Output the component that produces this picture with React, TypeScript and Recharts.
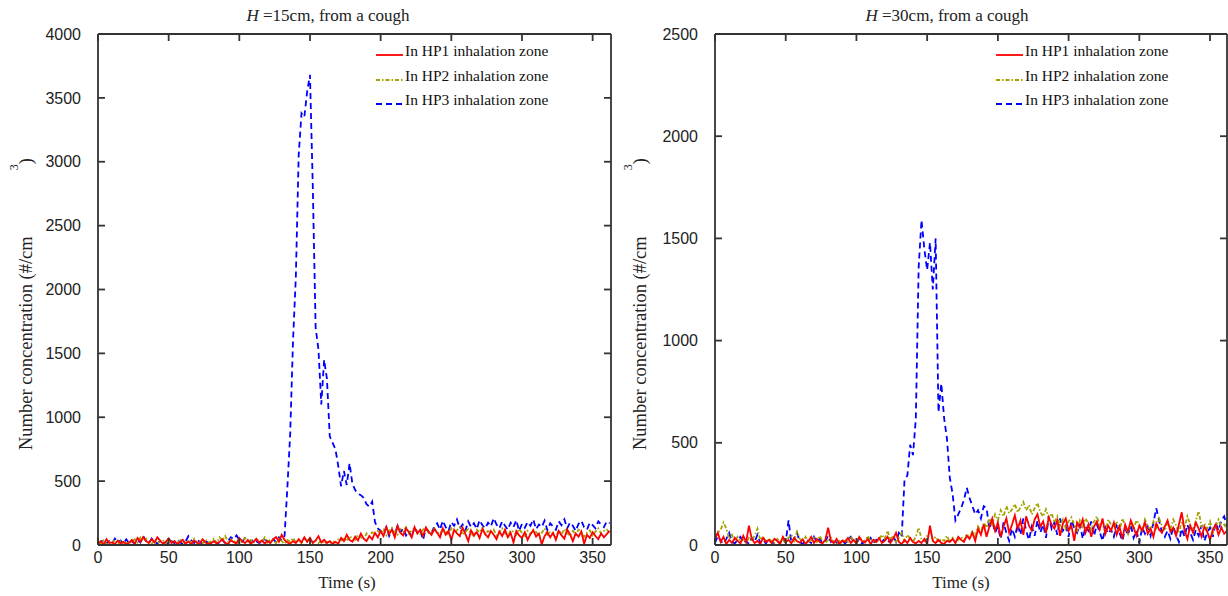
import { Legend, Line, LineChart, XAxis, YAxis } from 'recharts';

const SERIF = '"Liberation Serif", "Times New Roman", serif';
const SANS = '"Liberation Sans", Arial, sans-serif';
const FRAME = '#333';
const INK = '#222';

// samples every 2 s
const STEP_S = 2;
const TIME_TICKS = [0, 50, 100, 150, 200, 250, 300, 350];
const Y_TICKS_15 = [0, 500, 1000, 1500, 2000, 2500, 3000, 3500, 4000];
const Y_TICKS_30 = [0, 500, 1000, 1500, 2000, 2500];

// H = 15 cm
const H15_HP1 = [
  10, 30, 5, 45, 15, 20, 8, 35, 12, 25, 5, 18, 40, 10, 55, 25, 62, 30, 15, 45,
  20, 60, 35, 10, 25, 50, 15, 30, 8, 22, 40, 12, 28, 5, 35, 18, 10, 45, 20, 8,
  15, 30, 10, 25, 45, 18, 6, 38, 22, 12, 55, 30, 15, 40, 10, 25, 48, 20, 35, 12,
  30, 15, 45, 62, 25, 80, 40, 20, 10, 30, 15, 45, 20, 60, 25, 55, 15, 35, 70, 20,
  40, 15, 30, 8, 25, 10, 55, 30, 80, 40, 25, 65, 35, 90, 50, 30, 70, 45, 95, 60,
  110, 70, 140, 85, 120, 60, 150, 95, 75, 130, 100, 60, 140, 90, 120, 70, 135, 105, 80, 125,
  95, 60, 130, 80, 110, 40, 120, 90, 70, 135, 85, 30, 115, 75, 100, 55, 125, 85, 60, 110,
  80, 45, 105, 70, 120, 60, 95, 20, 110, 75, 55, 100, 40, 85, 115, 65, 90, 5, 70, 100,
  60, 95, 40, 110, 75, 50, 120, 85, 30, 90, 65, 105, 10, 80, 55, 100, 70, 45, 90, 60,
  85, 110,
];
const H15_HP2 = [
  20, 10, 35, 5, 25, 15, 40, 8, 30, 12, 20, 5, 28, 45, 18, 60, 30, 50, 22, 10,
  35, 15, 25, 40, 10, 55, 20, 30, 12, 45, 25, 8, 38, 20, 50, 15, 30, 10, 42, 18,
  28, 50, 15, 60, 35, 70, 25, 45, 20, 38, 10, 30, 55, 22, 40, 15, 48, 30, 25, 60,
  20, 45, 35, 15, 50, 30, 10, 40, 25, 55, 20, 35, 15, 45, 30, 60, 20, 40, 15, 35,
  10, 25, 15, 30, 20, 45, 35, 55, 30, 70, 50, 40, 80, 60, 45, 90, 70, 100, 80, 110,
  90, 120, 75, 110, 135, 95, 80, 125, 105, 140, 90, 115, 130, 100, 85, 120, 140, 95, 110, 130,
  100, 85, 125, 110, 75, 130, 95, 115, 140, 80, 105, 125, 90, 70, 120, 100, 135, 85, 110, 95,
  120, 75, 100, 130, 90, 65, 115, 105, 80, 125, 95, 60, 110, 85, 120, 100, 70, 95, 130, 80,
  105, 90, 60, 115, 85, 125, 95, 70, 110, 80, 120, 100, 65, 95, 115, 75, 105, 130, 90, 110,
  120, 95,
];
const H15_HP3 = [
  5, 25, 40, 10, 30, 15, 50, 20, 35, 8, 45, 15, 28, 10, 40, 20, 70, 30, 15, 50,
  25, 10, 35, 15, 20, 8, 30, 15, 45, 20, 10, 28, 70, 35, 15, 40, 25, 10, 30, 18,
  12, 35, 20, 8, 40, 15, 30, 60, 45, 75, 40, 25, 55, 35, 20, 45, 30, 15, 25, 40,
  30, 15, 45, 20, 60, 35, 70, 450, 870, 1600, 2100, 3050, 3380, 3350, 3550, 3680, 2800, 1700, 1530, 1100,
  1450, 1300, 850, 800, 750, 620, 460, 580, 470, 640, 480, 430, 400, 390, 370, 320, 300, 340, 180, 130,
  110, 90, 140, 70, 120, 85, 150, 100, 130, 75, 110, 60, 140, 95, 120, 40, 130, 100, 85, 150,
  170, 120, 190, 140, 110, 180, 150, 200, 130, 160, 115, 185, 140, 170, 125, 195, 155, 130, 175, 145,
  210, 160, 130, 185, 150, 120, 175, 140, 195, 110, 165, 135, 180, 150, 200, 125, 160, 140, 190, 115,
  170, 145, 120, 185, 155, 200, 130, 175, 150, 110, 165, 190, 140, 120, 175, 155, 130, 185, 160, 140,
  185, 170,
];

// H = 30 cm
const H30_HP1 = [
  30, 60, 15, 40, 5, 25, 10, 35, 20, 8, 45, 15, 95, 30, 10, 20, 5, 35, 15, 25,
  10, 30, 20, 5, 40, 15, 25, 8, 35, 18, 12, 28, 5, 20, 40, 10, 30, 15, 8, 25,
  85, 20, 10, 30, 5, 22, 15, 35, 10, 25, 8, 40, 18, 12, 30, 5, 25, 15, 35, 10,
  20, 40, 10, 30, 60, 15, 5, 25, 10, 35, 15, 8, 20, 10, 30, 5, 95, 20, 10, 25,
  10, 5, 20, 15, 30, 10, 40, 25, 15, 45, 30, 60, 20, 80, 50, 100, 40, 90, 130, 70,
  110, 40, 90, 130, 60, 100, 145, 80, 120, 50, 140, 95, 70, 125, 150, 90, 115, 60, 135, 100,
  80, 120, 45, 105, 130, 70, 95, 20, 110, 85, 125, 60, 100, 40, 90, 115, 75, 130, 55, 95,
  70, 110, 50, 90, 30, 100, 65, 120, 85, 45, 95, 70, 110, 55, 80, 40, 105, 75, 60, 90,
  120, 65, 85, 45, 100, 160, 70, 30, 95, 60, 110, 80, 40, 90, 65, 25, 75, 100, 50, 85,
  55, 70,
];
const H30_HP2 = [
  40, 60, 75, 110, 80, 30, 50, 20, 40, 15, 25, 10, 35, 20, 45, 80, 25, 40, 15, 30,
  20, 10, 30, 15, 25, 8, 35, 50, 20, 65, 30, 15, 40, 10, 25, 35, 15, 45, 20, 10,
  25, 35, 15, 5, 20, 10, 30, 15, 40, 20, 10, 35, 25, 15, 45, 20, 30, 10, 25, 50,
  30, 70, 25, 45, 15, 35, 60, 20, 50, 30, 15, 40, 85, 30, 20, 45, 70, 25, 40, 15,
  30, 20, 45, 15, 35, 10, 25, 40, 20, 55, 30, 70, 45, 90, 60, 110, 85, 130, 100, 150,
  120, 170, 140, 190, 155, 175, 200, 160, 185, 210, 170, 195, 150, 180, 205, 160, 140, 175, 130, 155,
  110, 140, 95, 125, 80, 115, 135, 100, 70, 120, 90, 130, 105, 75, 115, 140, 95, 110, 60, 125,
  100, 85, 115, 70, 130, 95, 55, 110, 80, 120, 100, 65, 125, 90, 75, 115, 85, 130, 95, 70,
  110, 80, 125, 95, 60, 115, 85, 140, 100, 70, 120, 165, 90, 105, 80, 115, 60, 95, 125, 85,
  100, 75,
];
const H30_HP3 = [
  10, 45, 20, 5, 30, 60, 15, 8, 25, 40, 10, 20, 5, 35, 15, 50, 10, 25, 8, 30,
  15, 5, 20, 10, 35, 15, 120, 10, 30, 60, 15, 5, 25, 20, 10, 40, 15, 30, 8, 20,
  45, 15, 30, 10, 5, 20, 8, 25, 40, 15, 10, 30, 5, 20, 15, 35, 10, 25, 20, 15,
  30, 10, 25, 45, 15, 60, 40, 320, 340, 490, 440, 620, 1360, 1590, 1450, 1345, 1480, 1250, 1500, 650,
  790, 620, 520, 330, 250, 120, 150, 180, 220, 280, 230, 190, 150, 170, 130, 190, 180, 80, 120, 60,
  90, 30, 110, 60, 20, 80, 40, 100, 50, 130, 70, 25, 90, 45, 120, 60, 100, 35, 140, 80,
  110, 50, 130, 70, 95, 40, 120, 85, 60, 105, 30, 90, 70, 115, 45, 100, 65, 20, 85, 55,
  75, 40, 95, 60, 20, 80, 50, 100, 35, 70, 10, 85, 55, 90, 45, 110, 180, 120, 60, 40,
  70, 30, 90, 50, 15, 80, 40, 100, 60, 25, 75, 45, 95, 20, 60, 85, 40, 110, 70, 120,
  140, 90,
];

const SERIES = [
  { key: 'hp1', name: 'In HP1 inhalation zone', color: '#ff0000', dash: undefined },
  { key: 'hp2', name: 'In HP2 inhalation zone', color: '#a3a300', dash: '4 2 1.5 2' },
  { key: 'hp3', name: 'In HP3 inhalation zone', color: '#0000ff', dash: '6 4' },
];

type Row = { t: number; hp1: number; hp2: number; hp3: number };

function toRows(hp1: number[], hp2: number[], hp3: number[]): Row[] {
  return hp1.map((v, i) => ({ t: i * STEP_S, hp1: v, hp2: hp2[i], hp3: hp3[i] }));
}

// tick marks only, no label (used for the inward ticks of the box)
const NoLabel = () => <g />;

function renderLegend() {
  return (
    <div>
      {SERIES.map((s) => (
        <div key={s.key} style={{ display: 'flex', alignItems: 'center', height: 24.5 }}>
          <svg width={28} height={16}>
            <line x1={0} x2={27} y1={12} y2={12} stroke={s.color} strokeWidth={1.8} strokeDasharray={s.dash} />
          </svg>
          <span style={{ fontFamily: SERIF, fontSize: 15.5, color: '#111', marginLeft: 1, whiteSpace: 'nowrap' }}>
            {s.name}
          </span>
        </div>
      ))}
    </div>
  );
}

type PanelProps = {
  heightCm: number;
  rows: Row[];
  yTicks: number[];
  left: number;
  plotLeft: number;
  rightPad: number;
  tMax: number;
  legendLeft: number;
  titleX: number;
};

function Panel(p: PanelProps) {
  const yMax = p.yTicks[p.yTicks.length - 1];
  const frame = { stroke: FRAME, strokeWidth: 1.8 };
  return (
    <div style={{ position: 'absolute', left: p.left, top: 0, width: 614, height: 596 }}>
      <LineChart width={614} height={596} data={p.rows} margin={{ top: 34, right: p.rightPad, bottom: 21, left: 0 }}>
        <XAxis
          xAxisId="b"
          dataKey="t"
          type="number"
          domain={[0, p.tMax]}
          allowDataOverflow
          ticks={TIME_TICKS}
          height={30}
          tickLine={false}
          axisLine={frame}
          tickMargin={1}
          tick={{ fill: INK, fontSize: 16, fontFamily: SANS }}
        />
        <XAxis xAxisId="bm" dataKey="t" type="number" domain={[0, p.tMax]} allowDataOverflow ticks={TIME_TICKS}
          mirror axisLine={false} tick={NoLabel} tickSize={7} tickLine={frame} />
        <XAxis xAxisId="top" orientation="top" dataKey="t" type="number" domain={[0, p.tMax]} allowDataOverflow
          ticks={TIME_TICKS} mirror axisLine={frame} tick={NoLabel} tickSize={7} tickLine={frame} />
        <YAxis
          yAxisId="l"
          type="number"
          domain={[0, yMax]}
          allowDataOverflow
          ticks={p.yTicks}
          width={p.plotLeft}
          tickLine={false}
          axisLine={frame}
          tickMargin={11}
          tick={{ fill: INK, fontSize: 16, fontFamily: SANS }}
        />
        <YAxis yAxisId="lm" type="number" domain={[0, yMax]} allowDataOverflow ticks={p.yTicks}
          mirror axisLine={false} tick={NoLabel} tickSize={7} tickLine={frame} />
        <YAxis yAxisId="r" orientation="right" type="number" domain={[0, yMax]} allowDataOverflow ticks={p.yTicks}
          mirror axisLine={frame} tick={NoLabel} tickSize={7} tickLine={frame} />
        <Legend
          layout="vertical"
          verticalAlign="middle"
          align="center"
          wrapperStyle={{ left: p.legendLeft, top: 39, width: 230 }}
          content={renderLegend}
        />
        {[...SERIES].reverse().map((s) => (
          <Line
            key={s.key}
            xAxisId="b"
            yAxisId="l"
            type="linear"
            dataKey={s.key}
            name={s.name}
            stroke={s.color}
            strokeWidth={1.8}
            strokeDasharray={s.dash}
            dot={false}
            activeDot={false}
            isAnimationActive={false}
          />
        ))}
      </LineChart>
      <svg width={614} height={596} style={{ position: 'absolute', left: 0, top: 0, pointerEvents: 'none' }}>
        <text x={p.titleX} y={21} textAnchor="middle" fontFamily={SERIF} fontSize={17} fill={INK}>
          <tspan fontStyle="italic">H</tspan> ={p.heightCm}cm, from a cough
        </text>
        <text x={347} y={588} textAnchor="middle" fontFamily={SERIF} fontSize={17} fill={INK}>
          Time (s)
        </text>
        <text transform="translate(32,450) rotate(-90)" fontFamily={SERIF} fontSize={18.5} fill={INK}>
          Number concentration (#/cm
          <tspan dx={66} dy={-14} fontSize={12}>3</tspan>
          <tspan dy={14}>)</tspan>
        </text>
      </svg>
    </div>
  );
}

export default function App() {
  return (
    <div style={{ position: 'absolute', left: 0, top: 0, width: 1228, height: 596, background: '#fff' }}>
      <Panel
        heightCm={15}
        rows={toRows(H15_HP1, H15_HP2, H15_HP3)}
        yTicks={Y_TICKS_15}
        left={0}
        plotLeft={98}
        rightPad={3}
        tMax={363}
        legendLeft={376}
        titleX={328}
      />
      <Panel
        heightCm={30}
        rows={toRows(H30_HP1, H30_HP2, H30_HP3)}
        yTicks={Y_TICKS_30}
        left={614}
        plotLeft={101}
        rightPad={1}
        tMax={362}
        legendLeft={382}
        titleX={333}
      />
    </div>
  );
}
